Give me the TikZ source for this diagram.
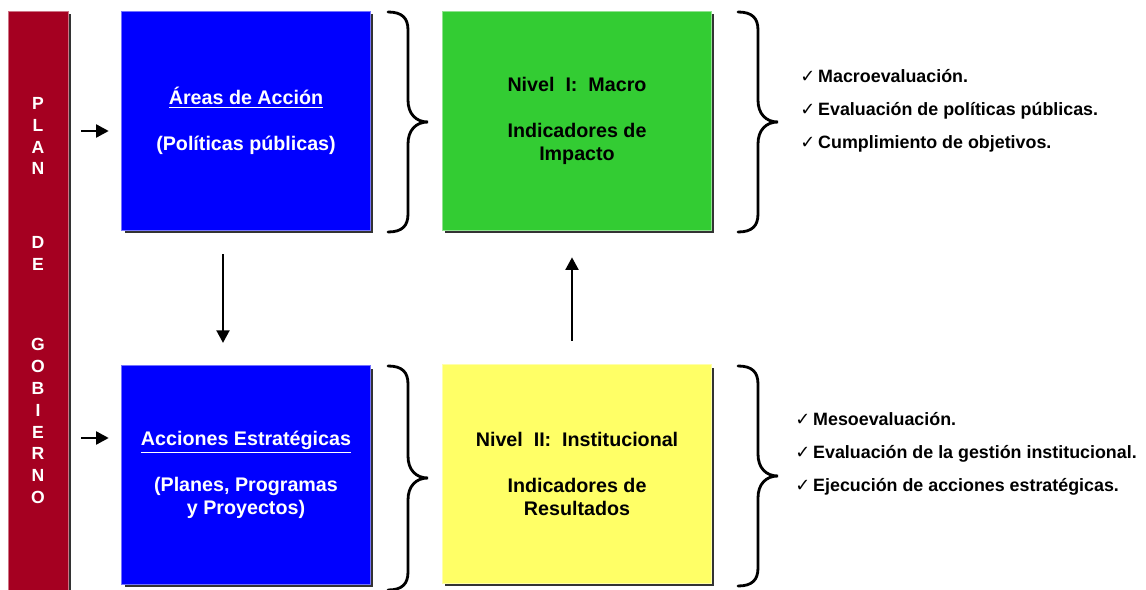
\documentclass[tikz,border=0pt]{standalone}
\usepackage{fontspec}
\setmainfont{Liberation Sans}
\newfontfamily\chkfont{DejaVu Sans}
\usetikzlibrary{arrows.meta,shadows}

\definecolor{plancolor}{RGB}{165,0,33}
\definecolor{areacolor}{RGB}{0,0,255}
\definecolor{macrocolor}{RGB}{51,204,51}
\definecolor{mesocolor}{RGB}{255,255,102}

\tikzset{
  box/.style={rectangle, fill=#1, draw=#1!55!white, line width=0.7pt,
    minimum height=5.45cm, align=center,
    font=\fontsize{14}{16.3}\selectfont\bfseries,
    drop shadow={shadow xshift=1.8pt, shadow yshift=-1.8pt, fill=black!80, opacity=1}},
  letters/.style={align=center, text=white, font=\fontsize{12.5}{15.6}\selectfont\bfseries},
  checks/.style={align=left, anchor=west, inner sep=0pt, font=\fontsize{12.7}{23.4}\selectfont\bfseries},
  arr/.style={-{Triangle[length=9pt,width=9pt]}, line width=2.1pt},
  pics/curly/.style={code={
    \draw[line width=2pt, line cap=round]
      (0,0) .. controls (14,0) and (20,6) .. (20,18)
      -- (20,{#1/2-22}) .. controls (20,{#1/2-8}) and (28,{#1/2}) .. (40,{#1/2})
      .. controls (28,{#1/2}) and (20,{#1/2+8}) .. (20,{#1/2+22})
      -- (20,{#1-18}) .. controls (20,{#1-6}) and (14,#1) .. (0,#1);
  }}
}

\newcommand{\chk}{{\chkfont\mdseries ✓}\,}

\begin{document}
\begin{tikzpicture}[x=0.025cm, y=-0.025cm]
    \useasboundingbox (0,0) rectangle (1146,590);

    % plan de gobierno
    \node[box=plancolor, minimum width=1.5cm, minimum height=14.5cm] (plan) at (38, 302) {};
    \node[letters] (plantxt) at (38, 136) {P\\L\\A\\N};
    \node[letters] (detxt) at (38, 253) {D\\E};
    \node[letters] (gobtxt) at (38, 421) {G\\O\\B\\I\\E\\R\\N\\O};

    % areas y acciones
    \node[box=areacolor, text=white, minimum width=6.2cm] (areas) at (246, 121)
        {\underline{Áreas de Acción}\\[16.3pt](Políticas públicas)};
    \node[box=areacolor, text=white, minimum width=6.2cm] (acciones) at (246, 475)
        {\underline{Acciones Estratégicas}\\[16.3pt](Planes, Programas\\y Proyectos)};

    % niveles
    \node[box=macrocolor, minimum width=6.725cm] (macro) at (577, 121)
        {Nivel\ \ I:\ \ Macro\\[16.3pt]Indicadores de\\Impacto};
    \node[box=mesocolor, minimum width=6.725cm] (meso) at (577, 474)
        {Nivel\ \ II:\ \ Institucional\\[16.3pt]Indicadores de\\Resultados};

    % llaves
    \pic at (388, 12) {curly=220};
    \pic at (738, 12) {curly=220};
    \pic at (388, 366) {curly=224};
    \pic at (738, 366) {curly=220};

    % evaluaciones
    \node[checks] (macrolist) at (800, 111)
        {\chk Macroevaluación.\\\chk Evaluación de políticas públicas.\\\chk Cumplimiento de objetivos.};
    \node[checks] (mesolist) at (795, 454)
        {\chk Mesoevaluación.\\\chk Evaluación de la gestión institucional.\\\chk Ejecución de acciones estratégicas.};

    % flechas
    \draw[arr, shorten <=9, shorten >=9] (plan.east |- 0,131) -- (areas.west |- 0,131);
    \draw[arr, shorten <=9, shorten >=9] (plan.east |- 0,438) -- (acciones.west |- 0,438);
    \draw[arr, shorten <=17, shorten >=16] (areas.south -| 223,0) -- (acciones.north -| 223,0);
    \draw[arr, shorten <=17, shorten >=19] (meso.north -| 572,0) -- (macro.south -| 572,0);
\end{tikzpicture}
\end{document}
